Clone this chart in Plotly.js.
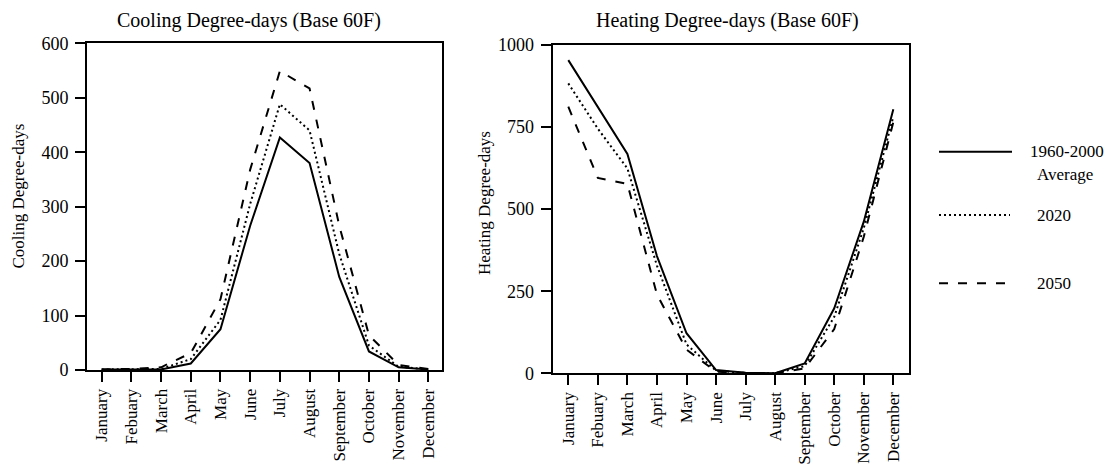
<!DOCTYPE html>
<html>
<head>
<meta charset="utf-8">
<script src="https://cdn.plot.ly/plotly-3.0.1.min.js"></script>
<style>body{margin:0;background:#fff}#chart{width:1120px;height:464px}</style>
</head>
<body>
<div id="chart"></div>
<script>
const months = ['January','Febuary','March','April','May','June','July','August','September','October','November','December'];
const seriesNames = ['1960-2000 Average', '2020', '2050'];
const coolBase = [1, 1, 1, 12, 75, 265, 427, 380, 171, 34, 5, 1];
const cool2020 = [1, 1, 2, 20, 92, 305, 488, 440, 213, 45, 6, 1];
const cool2050 = [1, 2, 5, 31, 130, 368, 549, 517, 265, 64, 9, 2];
const heatBase = [954, 812, 668, 357, 122, 10, 2, 0, 30, 198, 462, 804];
const heat2020 = [883, 745, 624, 328, 88, 8, 1, 0, 22, 172, 442, 782];
const heat2050 = [812, 595, 577, 240, 72, 5, 1, 0, 15, 135, 416, 765];
const coolTicks = [0, 100, 200, 300, 400, 500, 600];
const heatTicks = [0, 250, 500, 750, 1000];

const W = 1120, H = 464;
const px = v => v / W;
const py = v => 1 - v / H;
const FONT = 'Liberation Serif, Times New Roman, serif';
const dashes = ['solid', '2px,3px', '9px,10px'];

function tr(y, i, xa, ya) {
  return {type: 'scatter', mode: 'lines', x: months, y: y, name: seriesNames[i],
    xaxis: xa, yaxis: ya, showlegend: false, hoverinfo: 'skip',
    line: {color: '#000', width: 2, dash: dashes[i]}};
}

const data = [
  tr(coolBase, 0, 'x', 'y'), tr(cool2020, 1, 'x', 'y'), tr(cool2050, 2, 'x', 'y'),
  tr(heatBase, 0, 'x2', 'y2'), tr(heat2020, 1, 'x2', 'y2'), tr(heat2050, 2, 'x2', 'y2')
];

const axBase = {showline: true, mirror: true, linecolor: '#000', linewidth: 2,
  ticks: 'outside', ticklen: 10, tickwidth: 2, tickcolor: '#000',
  showgrid: false, zeroline: false, automargin: false, fixedrange: true,
  tickfont: {family: FONT, size: 17, color: '#000'}};

const xBase = Object.assign({}, axBase, {type: 'category', categoryorder: 'array',
  categoryarray: months, tickangle: -90});

const layout = {
  width: W, height: H,
  margin: {l: 0, r: 0, t: 0, b: 0},
  paper_bgcolor: '#fff', plot_bgcolor: '#fff',
  showlegend: false,
  font: {family: FONT, color: '#000'},
  xaxis: Object.assign({}, xBase, {domain: [px(87), px(442)], range: [-0.495, 11.46], anchor: 'y'}),
  yaxis: Object.assign({}, axBase, {domain: [py(370), py(43.3)], range: [0, 600],
    tickvals: coolTicks, anchor: 'x', ticklabelstandoff: 3, tickfont: {family: FONT, size: 18, color: '#000'}}),
  xaxis2: Object.assign({}, xBase, {domain: [px(552.7), px(909)], range: [-0.528, 11.53], anchor: 'y2'}),
  yaxis2: Object.assign({}, axBase, {domain: [py(373.3), py(45)], range: [0, 1000],
    tickvals: heatTicks, anchor: 'x2', ticklabelstandoff: 3, tickfont: {family: FONT, size: 18, color: '#000'}}),
  annotations: [
    {text: 'Cooling Degree-days (Base 60F)', x: px(249), y: py(20), xref: 'paper', yref: 'paper',
      showarrow: false, xanchor: 'center', yanchor: 'middle', font: {family: FONT, size: 20}},
    {text: 'Heating Degree-days (Base 60F)', x: px(727), y: py(20), xref: 'paper', yref: 'paper',
      showarrow: false, xanchor: 'center', yanchor: 'middle', font: {family: FONT, size: 20}},
    {text: 'Cooling Degree-days', x: px(17.5), y: py(196), xref: 'paper', yref: 'paper', textangle: -90,
      showarrow: false, xanchor: 'center', yanchor: 'middle', font: {family: FONT, size: 17}},
    {text: 'Heating Degree-days', x: px(484), y: py(203), xref: 'paper', yref: 'paper', textangle: -90,
      showarrow: false, xanchor: 'center', yanchor: 'middle', font: {family: FONT, size: 17}},
    {text: '1960-2000', x: px(1028), y: py(151.7), xref: 'paper', yref: 'paper',
      showarrow: false, xanchor: 'left', yanchor: 'middle', font: {family: FONT, size: 17}},
    {text: 'Average', x: px(1035), y: py(174), xref: 'paper', yref: 'paper',
      showarrow: false, xanchor: 'left', yanchor: 'middle', font: {family: FONT, size: 17}},
    {text: seriesNames[1], x: px(1035), y: py(215), xref: 'paper', yref: 'paper',
      showarrow: false, xanchor: 'left', yanchor: 'middle', font: {family: FONT, size: 17}},
    {text: seriesNames[2], x: px(1035), y: py(283.3), xref: 'paper', yref: 'paper',
      showarrow: false, xanchor: 'left', yanchor: 'middle', font: {family: FONT, size: 17}}
  ],
  shapes: [
    {type: 'line', xref: 'paper', yref: 'paper', x0: px(939), x1: px(1012), y0: py(151.7), y1: py(151.7),
      line: {color: '#000', width: 2, dash: dashes[0]}},
    {type: 'line', xref: 'paper', yref: 'paper', x0: px(939), x1: px(1010), y0: py(215), y1: py(215),
      line: {color: '#000', width: 2, dash: dashes[1]}},
    {type: 'line', xref: 'paper', yref: 'paper', x0: px(939), x1: px(1010), y0: py(283.3), y1: py(283.3),
      line: {color: '#000', width: 2, dash: dashes[2]}}
  ]
};

Plotly.newPlot('chart', data, layout, {displayModeBar: false, staticPlot: true});
</script>
</body>
</html>
